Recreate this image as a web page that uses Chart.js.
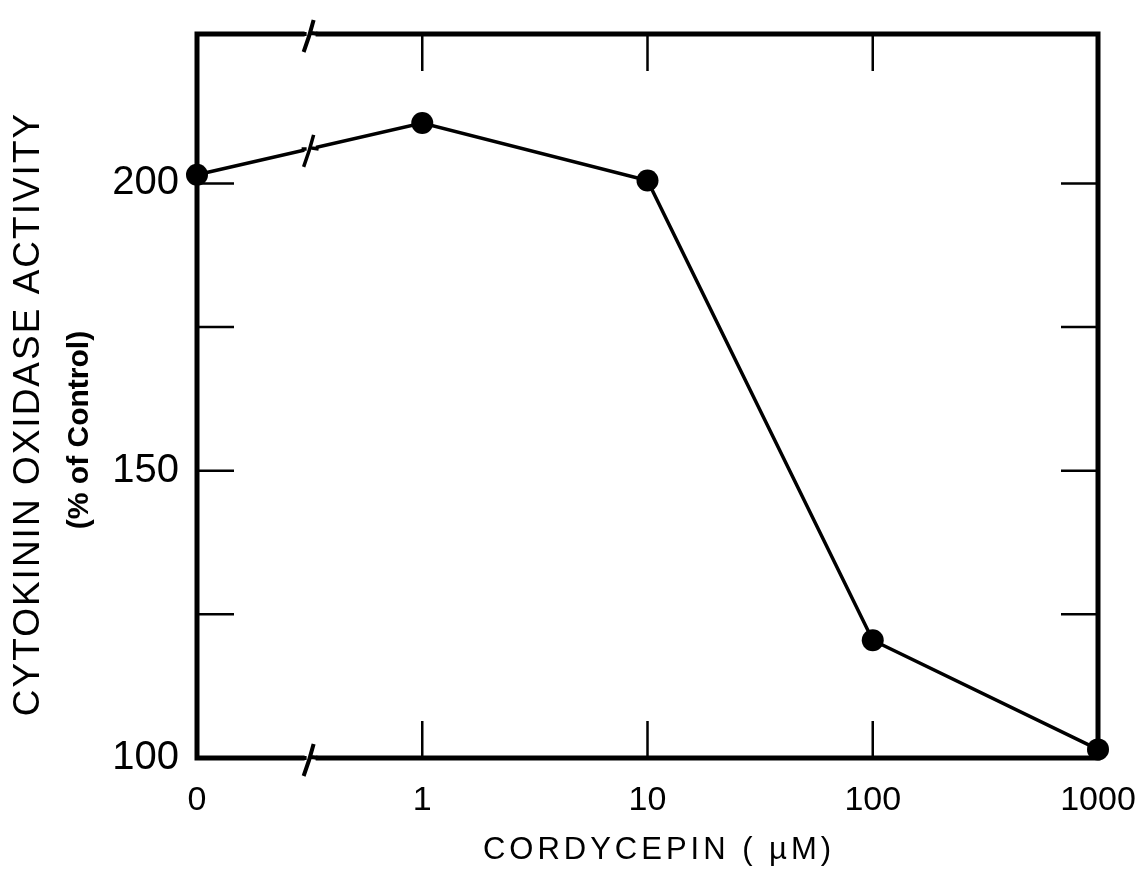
<!DOCTYPE html>
<html>
<head>
<meta charset="utf-8">
<script src="https://cdn.jsdelivr.net/npm/chart.js@4"></script>
<style>
  html, body { margin: 0; padding: 0; background: #fff; }
  #wrap { width: 1147px; height: 880px; }
</style>
</head>
<body>
<div id="wrap"><canvas id="chart" width="1147" height="880"></canvas></div>
<script>
// data
const doseLabels = ['0', '1', '10', '100', '1000'];   // cordycepin, µM (0 is on a broken axis)
const activity = [201.5, 210.5, 200.5, 120.5, 101.5];  // % of control
const yLabelTicks = [100, 150, 200];
const yInnerTicks = [125, 150, 175, 200];

const yTitle = 'CYTOKININ OXIDASE ACTIVITY';
const ySubTitle = '(% of Control)';
const xTitle = 'CORDYCEPIN ( \u00b5M)';

const FONT = "'Liberation Sans', 'DejaVu Sans', sans-serif";

// frame, inward ticks, axis breaks and titles
const framePlugin = {
  id: 'frame',
  afterDatasetsDraw(chart) {
    const { ctx, chartArea: a, scales } = chart;
    const x = scales.x, y = scales.y;
    ctx.save();
    ctx.strokeStyle = '#000';
    ctx.lineCap = 'butt';

    // inward ticks
    ctx.lineWidth = 2.5;
    const tl = 37;
    for (let i = 1; i < doseLabels.length - 1; i++) {
      const px = x.getPixelForValue(i);
      ctx.beginPath();
      ctx.moveTo(px, a.bottom); ctx.lineTo(px, a.bottom - tl);
      ctx.moveTo(px, a.top); ctx.lineTo(px, a.top + tl);
      ctx.stroke();
    }
    yInnerTicks.forEach(v => {
      const py = y.getPixelForValue(v);
      ctx.beginPath();
      ctx.moveTo(a.left, py); ctx.lineTo(a.left + tl, py);
      ctx.moveTo(a.right, py); ctx.lineTo(a.right - tl, py);
      ctx.stroke();
    });

    // frame
    ctx.lineWidth = 5;
    ctx.lineJoin = 'miter';
    ctx.strokeRect(a.left, a.top, a.right - a.left, a.bottom - a.top);

    // break marks between 0 and 1
    const bx = (x.getPixelForValue(0) + x.getPixelForValue(1)) / 2;
    const pts = chart.getDatasetMeta(0).data;
    const t = (bx - pts[0].x) / (pts[1].x - pts[0].x);
    const ly = pts[0].y + t * (pts[1].y - pts[0].y);
    const breakAt = (cy, lw) => {
      ctx.fillStyle = '#fff';
      ctx.fillRect(bx - 5, cy - 6, 11, 12);
      ctx.lineWidth = lw;
      ctx.beginPath();
      ctx.moveTo(bx - 8, cy);
      ctx.lineTo(bx - 3, cy);
      ctx.moveTo(bx - 6, cy + 18);
      ctx.quadraticCurveTo(bx, cy + 2, bx + 4, cy - 14);
      ctx.moveTo(bx + 2, cy - 1);
      ctx.lineTo(bx + 9, cy);
      ctx.stroke();
    };
    breakAt(a.top, 4);
    breakAt(a.bottom, 4);
    breakAt(ly, 3.5);

    // titles
    ctx.fillStyle = '#000';
    ctx.textAlign = 'center';
    ctx.textBaseline = 'middle';
    ctx.letterSpacing = '4px';
    ctx.font = '31px ' + FONT;
    ctx.fillText(xTitle, 659, 850);

    ctx.save();
    ctx.translate(29, 414);
    ctx.rotate(-Math.PI / 2);
    ctx.letterSpacing = '2px';
    ctx.font = '37px ' + FONT;
    ctx.fillText(yTitle, 0, 0);
    ctx.restore();

    ctx.save();
    ctx.translate(80, 430);
    ctx.rotate(-Math.PI / 2);
    ctx.letterSpacing = '0px';
    ctx.font = 'bold 30px ' + FONT;
    ctx.fillText(ySubTitle, 0, 0);
    ctx.restore();

    ctx.restore();
  }
};

new Chart(document.getElementById('chart'), {
  type: 'line',
  data: {
    labels: doseLabels,
    datasets: [{
      data: activity,
      borderColor: '#000',
      borderWidth: 3.5,
      backgroundColor: '#000',
      pointRadius: 11,
      pointBackgroundColor: '#000',
      pointBorderWidth: 0,
      tension: 0,
      clip: false
    }]
  },
  options: {
    responsive: false,
    animation: false,
    layout: { padding: { top: 34, right: 49, left: 0, bottom: 0 } },
    plugins: { legend: { display: false }, tooltip: { enabled: false } },
    scales: {
      x: {
        type: 'category',
        offset: false,
        grid: { display: false, drawTicks: false },
        border: { display: false },
        ticks: { color: '#000', padding: 22, maxRotation: 0, font: { family: FONT, size: 34 } },
        afterFit(s) { s.height = 122; s.paddingLeft = 0; s.paddingRight = 0; }
      },
      y: {
        min: 100,
        max: 226,
        grid: { display: false, drawTicks: false },
        border: { display: false },
        ticks: {
          stepSize: 25,
          color: '#000',
          padding: 18,
          font: { family: FONT, size: 40 },
          callback: v => yLabelTicks.includes(v) ? String(v) : ''
        },
        afterFit(s) { s.width = 197; s.paddingTop = 0; s.paddingBottom = 0; }
      }
    }
  },
  plugins: [framePlugin]
});
</script>
</body>
</html>
